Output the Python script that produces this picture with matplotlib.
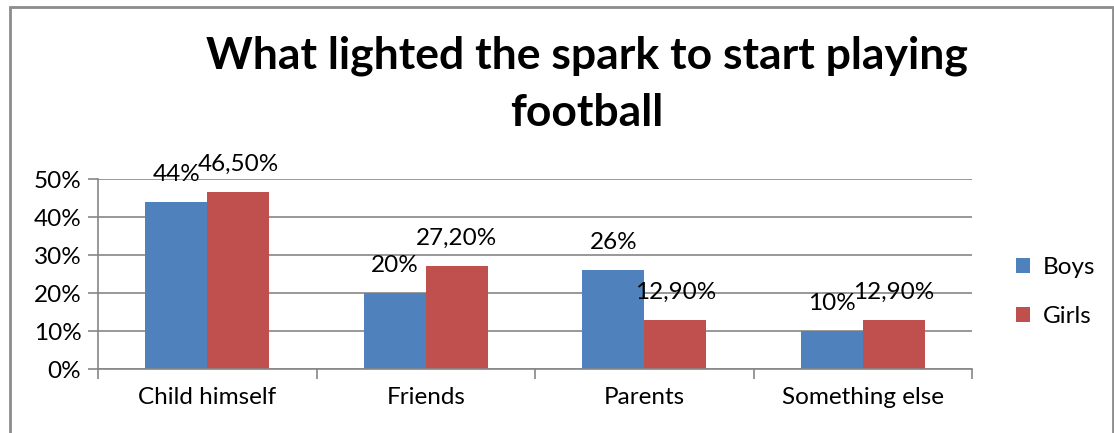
import matplotlib.pyplot as plt
from matplotlib.patches import Rectangle
import numpy as np

categories = ["Child himself", "Friends", "Parents", "Something else"]
boys = [44, 20, 26, 10]
girls = [46.5, 27.2, 12.9, 12.9]
boys_labels = ["44%", "20%", "26%", "10%"]
girls_labels = ["46,50%", "27,20%", "12,90%", "12,90%"]

blue = "#4F81BD"
red = "#C0504D"
grid_col = "#868686"
font = ["Lato", "DejaVu Sans"]

plt.rcParams['font.family'] = font

fig = plt.figure(figsize=(11.14, 4.33), dpi=100)
ax = fig.add_axes([98 / 1114, 1 - 369 / 433, 874 / 1114, 190 / 433])

x = np.arange(len(categories))
w = 0.284
b1 = ax.bar(x - w / 2, boys, w, color=blue, label="Boys")
b2 = ax.bar(x + w / 2, girls, w, color=red, label="Girls")

for bars, labels in ((b1, boys_labels), (b2, girls_labels)):
    for bar, lab in zip(bars, labels):
        ax.annotate(lab, (bar.get_x() + bar.get_width() / 2, bar.get_height()),
                    xytext=(0, 20), textcoords="offset points",
                    ha="center", va="center", fontsize=17.5)

ax.set_xlim(-0.5, len(categories) - 0.5)
ax.set_ylim(0, 50)
ax.set_yticks(range(0, 51, 10))
ax.set_yticklabels([f"{v}%" for v in range(0, 51, 10)], fontsize=17.5)
ax.set_xticks(x)
ax.set_xticklabels(categories, fontsize=17.5)
ax.tick_params(axis="x", length=0, pad=13)
ax.tick_params(axis="y", length=7, color=grid_col, width=1.2, pad=5)
ax.set_xticks(np.arange(-0.5, len(categories), 1), minor=True)
ax.tick_params(axis="x", which="minor", length=7, color=grid_col, width=1.2)

ax.yaxis.grid(True, color=grid_col, linewidth=1.2)
ax.set_axisbelow(True)
for s in ("top", "right"):
    ax.spines[s].set_visible(False)
for s in ("left", "bottom"):
    ax.spines[s].set_color(grid_col)
    ax.spines[s].set_linewidth(1.2)

leg = fig.legend(handles=[b1, b2], loc="center left", bbox_to_anchor=(994 / 1114, 1 - 292 / 433),
                 frameon=False, fontsize=17.5, handlelength=0.6, handleheight=0.6,
                 labelspacing=1.15, handletextpad=0.5)

fig.text(587 / 1114, 1 - 84 / 433, "What lighted the spark to start playing\nfootball",
         ha="center", va="center", fontsize=32, fontweight="bold", linespacing=1.5)

fig.patches.append(Rectangle((10 / 1114, -0.1), 1103 / 1114, 1.1 - 7 / 433,
                             transform=fig.transFigure, fill=False,
                             edgecolor="#8C8C8C", linewidth=2))

fig.savefig("out.png", dpi=100)
